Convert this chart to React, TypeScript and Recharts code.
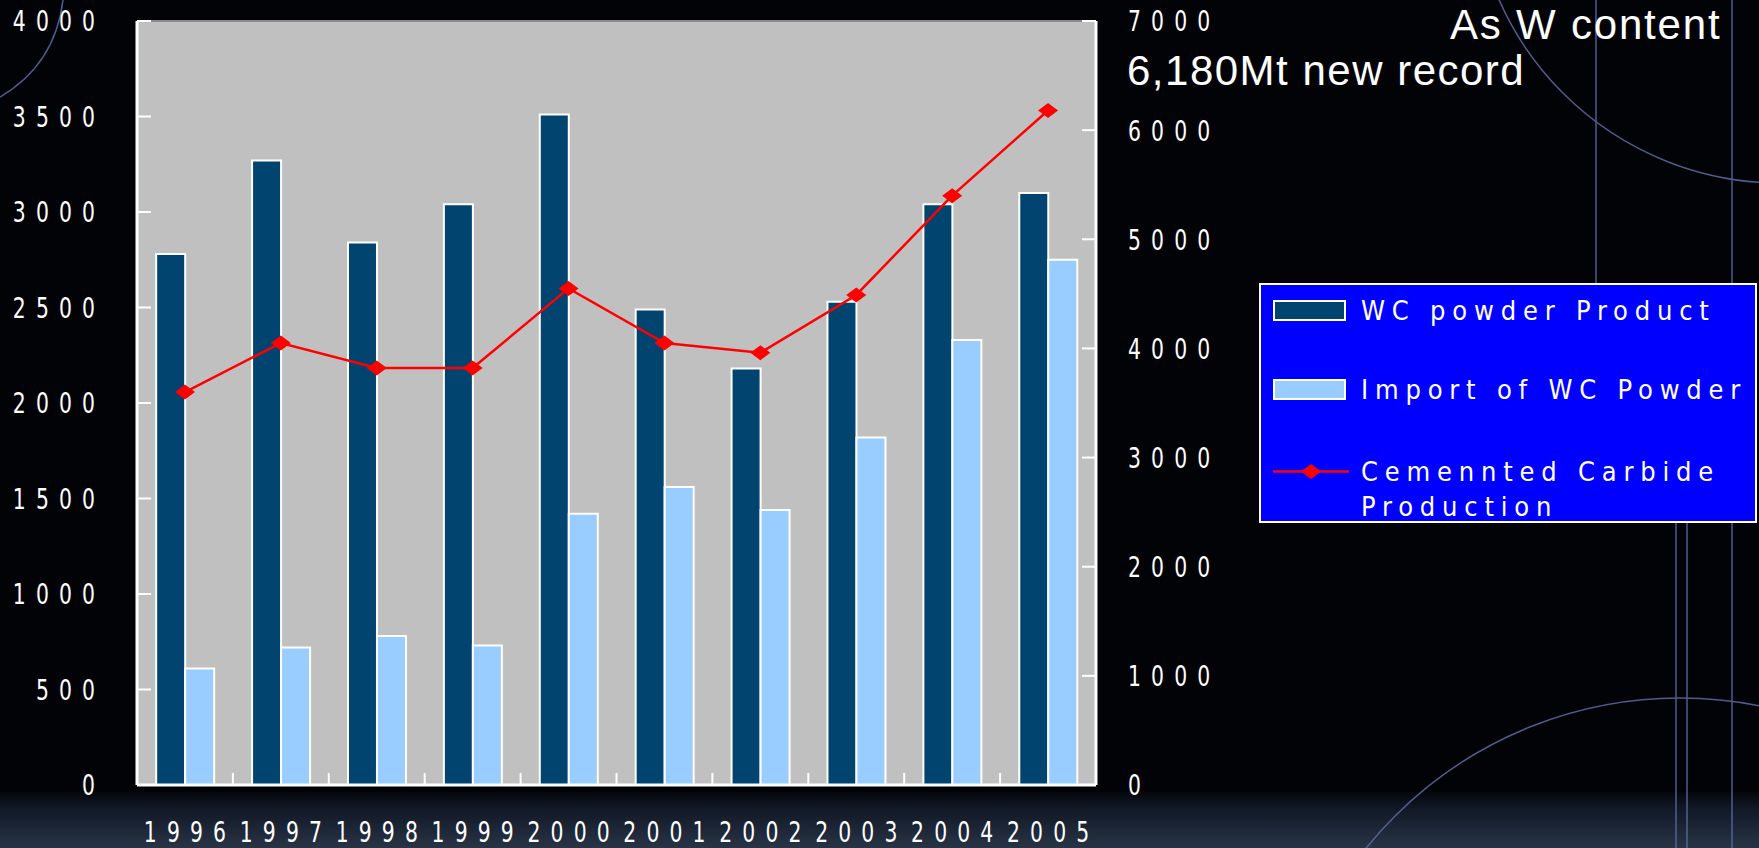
import React from "react";
import {
  ComposedChart,
  Bar,
  Line,
  XAxis,
  YAxis,
  CartesianGrid,
  Legend,
  ReferenceLine,
} from "recharts";

// values (t, as W content)
const years = ["1996", "1997", "1998", "1999", "2000", "2001", "2002", "2003", "2004", "2005"];
const wcPowderProduct = [2780, 3270, 2840, 3040, 3510, 2490, 2180, 2530, 3040, 3100];
const wcPowderImport = [610, 720, 780, 730, 1420, 1560, 1440, 1820, 2330, 2750];
const carbideProduction = [3600, 4050, 3820, 3820, 4550, 4050, 3960, 4490, 5400, 6180];

const leftTicks = [0, 500, 1000, 1500, 2000, 2500, 3000, 3500, 4000];
const rightTicks = [0, 1000, 2000, 3000, 4000, 5000, 6000, 7000];
const legendOrder = ["wc", "imp", "cc"];

const data = years.map((year, i) => ({
  year,
  wc: wcPowderProduct[i],
  imp: wcPowderImport[i],
  cc: carbideProduction[i],
}));

const NUM_FONT = "'DejaVu Sans Condensed', 'Liberation Sans Narrow', sans-serif";
const DARK = "#00446f";
const LIGHT = "#99ccff";
const X_TICK_SIZE = 6;
const X_TICK_MARGIN = 41;
const NUM_SPACING = 13;

// tall, narrow digits like the original slide font
function NumText({ x, y, anchor, dx = 0, children }: any) {
  return (
    <text
      transform={`translate(${x},${y}) scale(0.78,1)`}
      x={dx}
      y={0}
      dy="0.36em"
      textAnchor={anchor}
      fill="#fff"
      fontSize={29}
      fontFamily={NUM_FONT}
      style={{ letterSpacing: `${NUM_SPACING}px` }}
    >
      {children}
    </text>
  );
}

function LeftTick({ x, y, payload }: any) {
  return <NumText x={x} y={y} anchor="end" dx={NUM_SPACING}>{payload.value}</NumText>;
}

function RightTick({ x, y, payload }: any) {
  return <NumText x={x} y={y} anchor="start">{payload.value}</NumText>;
}

// year label + short inward tick on the boundary to the next category
function YearTick({ x, y, payload, index }: any) {
  const half = payload && typeof payload.offset === "number" ? payload.offset : 0;
  const axisY = y - X_TICK_SIZE - X_TICK_MARGIN;
  return (
    <g>
      {half > 0 && index < years.length - 1 && (
        <line x1={x + half} x2={x + half} y1={axisY} y2={axisY - 12} stroke="#fff" strokeWidth={2} />
      )}
      <NumText x={x} y={y} anchor="middle" dx={NUM_SPACING / 2}>{payload.value}</NumText>
    </g>
  );
}

function Diamond({ cx, cy }: any) {
  if (cx == null || cy == null) return null;
  return (
    <polygon
      points={`${cx},${cy - 7.5} ${cx + 10},${cy} ${cx},${cy + 7.5} ${cx - 10},${cy}`}
      fill="#ff0000"
    />
  );
}

function Swatch({ entry }: any) {
  if (entry.type === "line") {
    return (
      <svg width={76} height={35} style={{ marginRight: 12, flexShrink: 0 }}>
        <line x1={0} y1={17.5} x2={76} y2={17.5} stroke={entry.color} strokeWidth={2.5} />
        <Diamond cx={38} cy={17.5} />
      </svg>
    );
  }
  return (
    <div
      style={{
        width: 73,
        height: 21,
        marginTop: 7,
        marginRight: 15,
        flexShrink: 0,
        boxSizing: "border-box",
        border: "2px solid #fff",
        background: entry.color,
      }}
    />
  );
}

function LegendBox({ payload }: any) {
  const items = [...(payload || [])]
    .filter((e: any) => e.type !== "none" && legendOrder.includes(e.dataKey))
    .sort((a: any, b: any) => legendOrder.indexOf(a.dataKey) - legendOrder.indexOf(b.dataKey));
  return (
    <div
      style={{
        width: 498,
        height: 240,
        boxSizing: "border-box",
        background: "#0000ff",
        border: "2px solid #fff",
        padding: "8px 0 0 12px",
        color: "#fff",
        fontFamily: NUM_FONT,
      }}
    >
      {items.map((entry: any, i: number) => (
        <div key={i} style={{ display: "flex", alignItems: "flex-start", height: i === 0 ? 79 : 82 }}>
          <Swatch entry={entry} />
          <span style={{ fontSize: 27, lineHeight: "35px", letterSpacing: "6.8px", width: 396 }}>
            {entry.value}
          </span>
        </div>
      ))}
    </div>
  );
}

function Backdrop() {
  return (
    <svg width={1759} height={848} style={{ position: "absolute", left: 0, top: 0 }}>
      <defs>
        <linearGradient id="band" x1="0" y1="0" x2="0" y2="1">
          <stop offset="0%" stopColor="#05070c" />
          <stop offset="30%" stopColor="#111826" />
          <stop offset="100%" stopColor="#283446" />
        </linearGradient>
      </defs>
      <rect x={0} y={0} width={1759} height={848} fill="#020306" />
      <rect x={0} y={792} width={1759} height={56} fill="url(#band)" />
      <g fill="none" stroke="#5d6ca4" strokeWidth={1.5} opacity={0.85}>
        <path d="M 0 97 Q 55 65 63 0" />
        <circle cx={1780} cy={-124} r={307} />
        <circle cx={1680} cy={1101} r={403} />
        <line x1={1596} y1={0} x2={1596} y2={290} />
        <line x1={1732} y1={0} x2={1732} y2={848} />
        <line x1={1676} y1={520} x2={1676} y2={848} />
        <line x1={1687} y1={520} x2={1687} y2={848} />
      </g>
    </svg>
  );
}

export default function App() {
  return (
    <div style={{ position: "absolute", left: 0, top: 0, width: 1759, height: 848, overflow: "hidden" }}>
      <Backdrop />
      <div style={{ position: "absolute", left: 0, top: 0 }}>
        <ComposedChart
          width={1759}
          height={848}
          data={data}
          margin={{ top: 21, right: 523, bottom: 23, left: 0 }}
          barCategoryGap="20%"
          barGap={0}
        >
          <CartesianGrid fill="#c0c0c0" stroke="none" horizontal={false} vertical={false} />
          <XAxis
            dataKey="year"
            tick={<YearTick />}
            tickLine={false}
            tickSize={X_TICK_SIZE}
            tickMargin={X_TICK_MARGIN}
            axisLine={{ stroke: "#fff", strokeWidth: 3 }}
            height={40}
            interval={0}
          />
          <YAxis
            yAxisId="left"
            width={137}
            domain={[0, 4000]}
            ticks={leftTicks}
            interval={0}
            tick={<LeftTick />}
            tickSize={-14}
            tickMargin={56}
            tickLine={{ stroke: "#fff", strokeWidth: 2 }}
            axisLine={{ stroke: "#fff", strokeWidth: 3 }}
          />
          <YAxis
            yAxisId="right"
            orientation="right"
            width={140}
            domain={[0, 7000]}
            ticks={rightTicks}
            interval={0}
            tick={<RightTick />}
            tickSize={-14}
            tickMargin={46}
            tickLine={{ stroke: "#fff", strokeWidth: 2 }}
            axisLine={{ stroke: "#fff", strokeWidth: 3 }}
          />
          <ReferenceLine yAxisId="left" y={4000} stroke="#8a8a8a" strokeWidth={2} />
          <Bar
            yAxisId="left"
            dataKey="wc"
            name="WC powder Product"
            fill={DARK}
            stroke="#fff"
            strokeWidth={2}
            isAnimationActive={false}
          />
          <Bar
            yAxisId="left"
            dataKey="imp"
            name="Import of WC Powder"
            fill={LIGHT}
            stroke="#fff"
            strokeWidth={2}
            isAnimationActive={false}
          />
          <Line
            yAxisId="right"
            dataKey="cc"
            name="Cemennted Carbide Production"
            type="linear"
            stroke="#ff0000"
            strokeWidth={2.5}
            dot={(p: any) => <Diamond key={p.index} {...p} />}
            activeDot={false}
            isAnimationActive={false}
          />
          <Legend
            layout="vertical"
            align="center"
            verticalAlign="middle"
            content={<LegendBox />}
            wrapperStyle={{ left: 1259, top: 283, width: 498, height: 240 }}
          />
        </ComposedChart>
      </div>
      <svg width={1759} height={100} style={{ position: "absolute", left: 0, top: 0, pointerEvents: "none" }}>
        <text x={1450} y={39} fill="#fff" fontSize={42} fontFamily="'Liberation Sans', Arial, sans-serif"
          style={{ letterSpacing: "1.8px" }}>
          As W content
        </text>
        <text x={1127} y={85} fill="#fff" fontSize={42} fontFamily="'Liberation Sans', Arial, sans-serif"
          style={{ letterSpacing: "1.5px" }}>
          6,180Mt new record
        </text>
      </svg>
    </div>
  );
}
